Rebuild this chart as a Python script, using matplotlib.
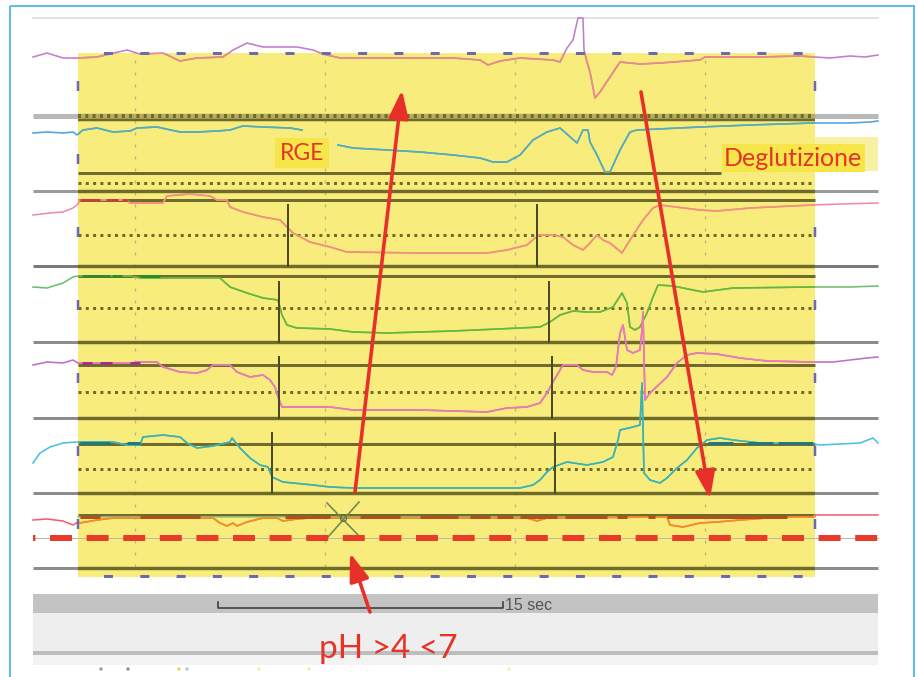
import numpy as np
import matplotlib
matplotlib.use("Agg")
import matplotlib.pyplot as plt
from matplotlib.patches import Rectangle

plt.rcParams['lines.scale_dashes'] = False
plt.rcParams['font.family'] = ['Lato', 'DejaVu Sans']

# ---------------- data (display samples at FS Hz, rows = trace display position) -------------
FS = 19.0      # display samples per second
S0 = 40        # sample index of t = 0 s

ch1_s = [33, 47, 63, 77, 97, 127, 140, 163, 180, 197, 223, 233, 247, 263, 297, 313, 323, 340, 387, 453,
         480, 488, 500, 520, 553, 560, 567, 573, 578, 583, 584, 587, 590, 595, 600, 610, 620, 640, 660, 700,
         705, 760, 800, 815, 830, 850, 865, 878]
ch1_v = [57, 53, 58, 58, 57, 50, 54, 53, 61, 58, 57, 50, 43, 47, 47, 50, 54, 58, 58, 58,
         60, 65, 61, 58, 60, 62, 48, 40, 18, 18, 50, 62, 72, 98, 92, 77, 62, 64, 63, 60,
         57, 57, 56, 57, 58, 56, 57, 55]

ch2_s = [33, 47, 63, 73, 77, 83, 97, 113, 130, 137, 157, 180, 197, 217, 230, 243, 263, 290, 302, 320,
         338, 353, 387, 420, 453, 480, 493, 507, 520, 533, 547, 560, 568, 577, 583, 588, 590, 597, 605, 610,
         620, 630, 637, 700, 750, 813, 830, 850, 870, 878]
ch2_v = [133, 132, 133, 132, 135, 130, 128, 132, 131, 128, 127, 132, 132, 131, 130, 126, 127, 128, 130, np.nan,
         145, 148, 150, 152, 155, 158, 162, 162, 155, 140, 132, 128, 135, 143, 130, 130, 142, 155, 172, 172,
         150, 132, 130, 127, 125, 123, 123, 123, 122, 121]

ch3_s = [33, 50, 63, 73, 77, 80, 127, 130, 163, 167, 190, 210, 217, 227, 230, 243, 263, 280, 287, 293,
         310, 330, 347, 420, 487, 507, 527, 535, 540, 553, 563, 573, 583, 590, 597, 603, 610, 622, 630, 643,
         653, 660, 700, 717, 750, 813, 840, 878]
ch3_v = [215, 213, 212, 208, 205, 200, 200, 203, 203, 196, 194, 196, 200, 200, 207, 212, 217, 220, 227, 233,
         242, 247, 252, 253, 253, 250, 245, 238, 235, 235, 237, 245, 250, 243, 235, 240, 243, 253, 240, 220,
         208, 205, 210, 211, 208, 205, 204, 203]

ch4_s = [33, 47, 63, 73, 78, 130, 140, 220, 230, 247, 263, 278, 282, 287, 297, 330, 353, 387, 453, 520,
         540, 550, 560, 573, 587, 600, 613, 622, 627, 630, 635, 640, 647, 653, 658, 673, 703, 733, 813, 850, 878]
ch4_v = [287, 288, 283, 277, 276, 276, 278, 278, 287, 293, 298, 300, 315, 325, 328, 329, 332, 333, 331, 328,
         327, 322, 315, 311, 312, 312, 307, 293, 303, 327, 330, 327, 313, 297, 285, 286, 292, 288, 287, 287, 286]

ch5_s = [33, 47, 63, 73, 78, 133, 137, 157, 163, 180, 197, 207, 213, 230, 237, 250, 263, 270, 275, 278,
         282, 330, 353, 420, 487, 507, 527, 540, 547, 553, 560, 563, 577, 583, 593, 607, 612, 616, 620, 623,
         627, 633, 640, 642, 643, 645, 650, 667, 677, 687, 697, 717, 740, 767, 813, 833, 867, 878]
ch5_v = [365, 362, 363, 360, 363, 363, 362, 362, 367, 372, 373, 370, 365, 365, 372, 377, 375, 380, 387, 397,
         407, 407, 410, 410, 412, 408, 407, 403, 393, 382, 370, 365, 365, 370, 372, 372, 375, 367, 333, 325,
         350, 353, 350, 330, 312, 400, 393, 377, 363, 355, 353, 354, 358, 361, 362, 362, 358, 357]

ch6_s = [33, 40, 50, 63, 77, 113, 127, 140, 143, 163, 180, 187, 197, 213, 230, 232, 240, 250, 260, 268,
         272, 283, 313, 330, 353, 520, 533, 540, 547, 553, 567, 587, 603, 613, 618, 620, 633, 640, 642, 644,
         650, 660, 667, 677, 687, 697, 707, 720, 733, 760, 813, 820, 860, 873, 878]
ch6_v = [463, 453, 447, 443, 442, 442, 445, 445, 437, 435, 437, 443, 448, 446, 442, 438, 448, 458, 465, 467,
         477, 482, 485, 487, 488, 488, 485, 480, 472, 467, 462, 465, 462, 457, 440, 430, 427, 425, 383, 473,
         480, 483, 478, 468, 460, 448, 440, 438, 440, 443, 444, 445, 443, 438, 443]

ph_s = [33, 47, 63, 73, 78, 80, 97, 113, 163, 213, 220, 227, 233, 237, 247, 263, 277, 283, 297, 310,
        527, 537, 547, 667, 670, 683, 700, 717, 740, 767, 787, 813, 815, 878]
ph_v = [520, 519, 521, 525, 522, 523, 520, 518, 518, 518, 523, 526, 523, 526, 522, 518, 518, 521, 519, 518,
        518, 521, 518, 517, 525, 527, 523, 522, 520, 518, 517, 517, 515, 515]

# impedance-event markers (start, end samples) per channel and their row span
marker_s = [(288, 537), (279, 549), (279, 552), (272, 555)]
marker_rows = [(205, 266), (282, 342), (357, 418), (433, 493)]

# bold (artifact) segments drawn on channel lines
bold3 = [(80, 100), (106, 118), (122, 128)]
bold4 = [(82, 110), (112, 122), (140, 160)]
bold5 = [(82, 92), (100, 112), (130, 140)]
bold6 = [(80, 110), (127, 140), (708, 733), (748, 773), (778, 813)]
bold_ph = [(80, 100), (140, 200), (285, 330), (360, 400), (420, 458), (470, 490), (497, 513),
           (520, 557), (565, 607), (617, 627), (648, 655), (667, 787)]

GRID_T = [5, 15, 25, 35]          # 10 s grid
SCALE_START_T, SCALE_LEN_T = 9.37, 15

# ---------------- figure ----------------
W, H = 918, 677
PX = 0.72   # points per pixel


def t(s):
    return (np.asarray(s, dtype=float) - S0) / FS


fig = plt.figure(figsize=(W / 100, H / 100), dpi=100)
ax = fig.add_axes([0, 0, 1, 1])
ax.set_xlim(t(0), t(W))
ax.set_ylim(H, 0)
ax.axis('off')

XL, XR = 33, 878          # tracing area
YL, YR, YT, YB = 78, 815, 53, 577   # highlighted window

# frame
ax.add_patch(Rectangle((t(10), 6), t(914) - t(10), 700, fill=False, ec='#5cbfe8', lw=2 * PX, zorder=0.5))
# top thin line
ax.plot(t([XL, XR]), [18, 18], color='#e3e3e3', lw=2 * PX, zorder=1)

yellow = Rectangle((t(YL), YT), t(YR) - t(YL), YB - YT, fc='#f7ec7c', ec='none', zorder=1)
ax.add_patch(yellow)

OLIVE = '#6f6b2c'

# vertical 10 s grid (dotted, faint)
for g in GRID_T:
    ax.plot([g, g], [60, 575], color='#bcb580', lw=1.3 * PX, dashes=(3 * PX, 9 * PX), zorder=2)

# separator lines: gray outside, olive inside
sep_rows = [116, 191, 266, 342, 418, 493, 568]
sep_cols = ['#b8b8b8', '#9a9a9a', '#7a7a7a', '#8c8c8c', '#8c8c8c', '#8c8c8c', '#8c8c8c']
sep_lw = [5, 3, 3, 3, 3, 3, 3]
for r, c, w in zip(sep_rows, sep_cols, sep_lw):
    ax.plot(t([XL, XR]), [r, r], color=c, lw=w * PX, zorder=3, solid_capstyle='butt')
    ln, = ax.plot(t([XL, XR]), [r, r], color=(OLIVE if r != 116 else '#b6ad5e'),
                  lw=w * PX + 0.3, zorder=3.1, solid_capstyle='butt')
    ln.set_clip_path(yellow)
# first separator inside the window: dotted strip over a solid olive line
ax.plot(t([YL, YR]), [119.5, 119.5], color=OLIVE, lw=2.5 * PX, zorder=3.15, solid_capstyle='butt')
ax.plot(t([YL, YR]), [115.5, 115.5], color=OLIVE, lw=4 * PX, dashes=(3 * PX, 4.3 * PX), zorder=3.15)

# channel (event) lines, only inside the window
for r, xr in zip([173, 200, 276, 365, 444, 515], [721, YR, YR, YR, YR, YR]):
    ax.plot(t([YL, xr]), [r, r], color=OLIVE, lw=3 * PX, zorder=3.2, solid_capstyle='butt')

# dotted mid lines
for r in [183, 235, 308, 392, 469]:
    ax.plot(t([YL, YR]), [r, r], color=OLIVE, lw=3 * PX, dashes=(3 * PX, 4.3 * PX), zorder=3.2)

# pH reference (red dashed) line
ax.plot(t([XL, XR]), [538, 538], color='#b4bcae', lw=1 * PX, zorder=3.3)
ax.plot(t([XL, XR]), [538, 538], color='#ea3a2a', lw=6 * PX, solid_capstyle='butt',
        linestyle=(19.6 * PX, (22 * PX, 14.6 * PX)), zorder=7)


def trace(s, v, c_out, c_in, lw=1.6):
    x = t(s)
    ax.plot(x, v, color=c_out, lw=lw * PX, zorder=5, solid_joinstyle='round')
    ln, = ax.plot(x, v, color=c_in, lw=lw * PX, zorder=5.1, solid_joinstyle='round')
    ln.set_clip_path(yellow)


trace(ch1_s, ch1_v, '#c47ccc', '#e88e80')
trace(ch2_s, ch2_v, '#4ea2e2', '#58aeb4')
trace(ch3_s, ch3_v, '#f08cb4', '#f29274')
trace(ch4_s, ch4_v, '#6cc074', '#6ab63a')
trace(ch5_s, ch5_v, '#c06ec8', '#ec7ab4')
trace(ch6_s, ch6_v, '#4cc0e2', '#3eb2aa')
trace(ph_s, ph_v, '#f06070', '#f2921e')

# light green pH channel line and bold segments
ax.plot(t([YL, YR]), [517, 517], color='#98cc7a', lw=1.6 * PX, zorder=4.9)
for spans, row, col in [(bold3, 200, '#c04238'), (bold4, 276, '#2e8a2e'), (bold5, 363, '#a0308e'),
                        (bold6, 443, '#1f7a7e'), (bold_ph, 517, '#b0501a')]:
    for a, b in spans:
        ax.plot(t([a, b]), [row, row], color=col, lw=3 * PX, zorder=5.5, solid_capstyle='butt')

# event markers
for (a, b), (r0, r1) in zip(marker_s, marker_rows):
    for s in (a, b):
        ax.plot(t([s, s]), [r0, r1], color='#4a4a2a', lw=2 * PX, zorder=6)

# X marker on pH channel
ax.plot(t([327, 360]), [503, 537], color='#6f8a4e', lw=1.6 * PX, zorder=6)
ax.plot(t([359, 328]), [502, 537], color='#6f8a4e', lw=1.6 * PX, zorder=6)
ax.plot(t([343]), [518], marker='o', ms=6 * PX, mfc='none', mec='#5d7a40', mew=1.2 * PX, zorder=6)

# dashed purple border of the window
BORDER = '#6a6ab2'
ax.plot(t([YL, YR]), [YT, YT], color=BORDER, lw=3 * PX, zorder=8,
        linestyle=(10.8 * PX, (9 * PX, 27.3 * PX)), solid_capstyle='butt')
ax.plot(t([YL, YR]), [YB - 1, YB - 1], color=BORDER, lw=3 * PX, zorder=8,
        linestyle=(10.8 * PX, (9 * PX, 27.3 * PX)), solid_capstyle='butt')
for xs in (YL, YR):
    ax.plot(t([xs, xs]), [YT, YB], color=BORDER, lw=2.5 * PX, zorder=8,
            linestyle=(45 * PX, (10 * PX, 63 * PX)))

# bottom bars
ax.add_patch(Rectangle((t(XL), 594), t(XR) - t(XL), 19, fc='#c3c3c3', ec='none', zorder=1))
ax.add_patch(Rectangle((t(XL), 613), t(XR) - t(XL), 38, fc='#eeeeee', ec='none', zorder=1))
ax.add_patch(Rectangle((t(XL), 651), t(XR) - t(XL), 4, fc='#bdbdbd', ec='none', zorder=1))
ax.add_patch(Rectangle((t(XL), 655), t(XR) - t(XL), 10, fc='#f3f3f3', ec='none', zorder=1))

# time scale bar
x0, x1 = SCALE_START_T, SCALE_START_T + SCALE_LEN_T
ax.plot([x0, x0, x1, x1], [602, 608, 608, 602], color='#3c3c3c', lw=1.6 * PX, zorder=4)
ax.text(x1 + 0.1, 605, '15 sec', fontsize=11.5, color='#555555', va='center', ha='left',
        family=['Liberation Sans', 'DejaVu Sans'], zorder=4)

# tiny marks at the very bottom
for s, col in [(100, '#9a9a9a'), (127, '#8a8a8a'), (178, '#f0d040'), (186, '#a8c8e8'),
               (258, '#f4ecb0'), (308, '#f0ecb0'), (508, '#f4eeb0')]:
    ax.plot(t([s]), [668], marker='s', ms=3 * PX, color=col, mec='none', zorder=4)

# labels
RED = '#e4342a'
ax.text(t(280), 153, 'RGE', fontsize=16.5, color=RED, ha='left', va='center', zorder=9,
        bbox=dict(boxstyle='square,pad=0.2', fc='#f6e64a', ec='none'))
ax.add_patch(Rectangle((t(815), 137), t(878) - t(815), 34, fc='#f8f0a2', ec='none', zorder=8.5))
ax.text(t(724), 158, 'Deglutizione', fontsize=18, color=RED, ha='left', va='center', zorder=9,
        bbox=dict(boxstyle='square,pad=0.1', fc='#f6e64a', ec='none'))
ax.text(t(319), 658, 'pH >4 <7', fontsize=24, color=RED, ha='left', va='baseline', zorder=9)

# red arrows
ARW = dict(arrowstyle='-|>,head_length=0.85,head_width=0.3', color='#e8302a', lw=3.6 * PX,
           mutation_scale=20, shrinkA=0, shrinkB=0)
ax.annotate('', xy=(t(402), 90), xytext=(t(355), 492), arrowprops=ARW, zorder=10)
ax.annotate('', xy=(t(710), 499), xytext=(t(641), 92), arrowprops=ARW, zorder=10)
ax.annotate('', xy=(t(350), 553), xytext=(t(370), 612), arrowprops=ARW, zorder=10)

fig.savefig('out.png', dpi=100)
